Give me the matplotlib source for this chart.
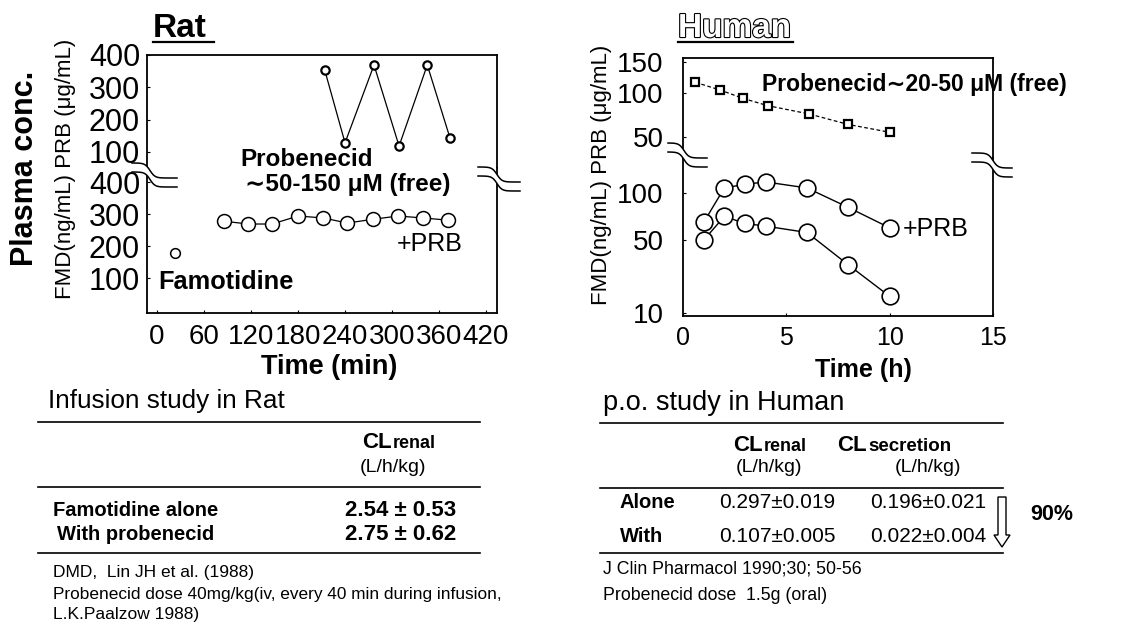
import numpy as np
import matplotlib
matplotlib.use('Agg')
import matplotlib.pyplot as plt
from matplotlib.lines import Line2D
from matplotlib.patches import Polygon
import matplotlib.patheffects as pe

plt.rcParams['font.family'] = ['Liberation Sans', 'DejaVu Sans']

# ---------------- data ----------------
rat_time_ticks = [0, 60, 120, 180, 240, 300, 360, 420]
rat_upper_ticks = [100, 200, 300, 400]
rat_lower_ticks = [100, 200, 300, 400]
famo_alone_time = [23]
famo_alone_conc = [180]
famo_prb_time = [85, 116, 147, 180, 212, 243, 276, 308, 339, 372]
famo_prb_conc = [278, 269, 269, 294, 288, 272, 284, 294, 288, 281]
prb_rat_time = [214, 240, 277, 309, 345, 374]
prb_rat_conc = [354, 128, 369, 118, 369, 143]

human_time_ticks = [0, 5, 10, 15]
human_upper_ticks = [50, 100, 150]
human_lower_ticks = [10, 50, 100]
fmd_time = [1, 2, 3, 4, 6, 8, 10]
fmd_with_prb = [65, 108, 114, 118, 108, 81, 60]
fmd_alone = [50, 71, 64, 61.5, 56, 29, 14.5]
prb_human_time = [0.6, 1.8, 2.9, 4.1, 6.1, 8.0, 10.0]
prb_human_conc = [115, 104, 92, 82, 72, 61, 54]

rat_table_rows = ['Famotidine alone', 'With probenecid']
rat_clrenal = ['2.54 ± 0.53', '2.75 ± 0.62']
human_table_rows = ['Alone', 'With']
human_clrenal = ['0.297±0.019', '0.107±0.005']
human_clsecretion = ['0.196±0.021', '0.022±0.004']

# ---------------- figure helpers ----------------
W, H = 1131, 632
fig = plt.figure(figsize=(W / 100, H / 100), dpi=100)


def fx(p):
    return p / W


def fy(p):
    return 1 - p / H


def box(l, t, r, b):
    return [fx(l), fy(b), fx(r) - fx(l), fy(t) - fy(b)]


def hline(x0, x1, y, lw=1.2):
    fig.add_artist(Line2D([fx(x0), fx(x1)], [fy(y), fy(y)], color='black', lw=lw,
                          transform=fig.transFigure))


def brk(x0, x1, y0, y1, gap=9, xm=None):
    xm = (x0 + x1) / 2 if xm is None else xm
    xs = np.linspace(x0, x1, 80)
    s = (1 + np.tanh((xs - xm) / 5.0)) / 2
    ya = y0 + (y1 - y0) * s
    yb = ya + gap
    fig.patches.append(Polygon(np.column_stack([fx(np.r_[xs, xs[::-1]]),
                                                fy(np.r_[ya, yb[::-1]])]),
                               closed=True, facecolor='white', edgecolor='none',
                               transform=fig.transFigure, zorder=5))
    for yy in (ya, yb):
        fig.add_artist(Line2D(fx(xs), fy(yy), color='black', lw=1.1,
                              transform=fig.transFigure, zorder=6))


def style(ax, top=True, bottom=True):
    for sp in ax.spines.values():
        sp.set_linewidth(1.3)
    ax.spines['top'].set_visible(top)
    ax.spines['bottom'].set_visible(bottom)
    ax.tick_params(direction='in', length=2, width=0.8)


# ---------------- Rat panel ----------------
ax_ru = fig.add_axes(box(147, 55, 497, 168))
ax_rl = fig.add_axes(box(147, 168, 497, 313))
for ax in (ax_ru, ax_rl):
    ax.set_xlim(-12.8, 434)
style(ax_ru, bottom=False)
style(ax_rl, top=False)
ax_ru.set_ylim(50, 400)
ax_rl.set_ylim(-9, 444)
ax_ru.set_xticks([])
ax_ru.set_yticks(rat_upper_ticks)
ax_rl.set_yticks(rat_lower_ticks)
ax_rl.set_xticks(rat_time_ticks)
ax_ru.tick_params(axis='y', labelsize=22, pad=5)
ax_rl.tick_params(axis='y', labelsize=22, pad=5)
ax_rl.tick_params(axis='x', labelsize=20, pad=8)

ax_ru.plot(prb_rat_time, prb_rat_conc, color='black', lw=0.9, marker='o', ms=6,
           mfc='white', mec='black', mew=1.6, clip_on=False)
ax_rl.plot(famo_prb_time, famo_prb_conc, color='black', lw=0.9, marker='o', ms=10,
           mfc='white', mec='black', mew=1.1, clip_on=False)
ax_rl.plot(famo_alone_time, famo_alone_conc, ls='none', marker='o', ms=7,
           mfc='white', mec='black', mew=1.1)

# ---------------- Human panel ----------------
def make_scale(vals, pix):
    lv = np.log10(np.asarray(vals, float))
    fp = -np.asarray(pix, float)

    def fwd(v):
        v = np.clip(np.asarray(v, float), 1e-6, None)
        return np.interp(np.log10(v), lv, fp)

    def inv(u):
        return 10 ** np.interp(np.asarray(u, float), fp, lv)
    return fwd, inv


ax_hu = fig.add_axes(box(683, 58, 993, 158))
ax_hl = fig.add_axes(box(683, 158, 993, 316))
ax_hu.set_yscale('function', functions=make_scale([10, 50, 100, 150, 1000],
                                                  [239, 137, 93, 62, -83]))
ax_hl.set_yscale('function', functions=make_scale([1, 10, 50, 100, 1000],
                                                  [417, 313, 240, 193, 37]))
for ax in (ax_hu, ax_hl):
    ax.set_xlim(0, 15)
    ax.minorticks_off()
style(ax_hu, bottom=False)
style(ax_hl, top=False)
ax_hu.set_ylim(36, 158)
ax_hl.set_ylim(9.4, 168)
ax_hu.set_xticks([])
ax_hu.set_yticks(human_upper_ticks)
ax_hu.set_yticklabels([str(v) for v in human_upper_ticks])
ax_hl.set_yticks(human_lower_ticks)
ax_hl.set_yticklabels([str(v) for v in human_lower_ticks])
ax_hl.set_xticks(human_time_ticks)
ax_hu.tick_params(axis='y', labelsize=20, pad=14)
ax_hl.tick_params(axis='y', labelsize=20, pad=14)
ax_hl.tick_params(axis='x', labelsize=18, pad=7)

ax_hu.plot(prb_human_time, prb_human_conc, color='black', lw=0.9, ls=(0, (3, 2)),
           marker='s', ms=6, mfc='white', mec='black', mew=1.6)
ax_hl.plot(fmd_time, fmd_with_prb, color='black', lw=1.0, marker='o', ms=12,
           mfc='white', mec='black', mew=1.2)
ax_hl.plot(fmd_time, fmd_alone, color='black', lw=1.0, marker='o', ms=12,
           mfc='white', mec='black', mew=1.2)

# ---------------- break marks ----------------
brk(132, 177, 163, 178, gap=9, xm=150)
brk(478, 520, 167, 182, gap=9, xm=497)
brk(668, 707, 143, 158, gap=9, xm=684)
brk(972, 1012, 153, 168, gap=9, xm=993)

# ---------------- titles & labels ----------------
fig.text(fx(153), fy(37), 'Rat', fontsize=24, fontweight='bold', ha='left', va='baseline')
hline(153, 214, 42, lw=1.6)
fig.text(fx(678), fy(37), 'Human', fontsize=24, fontweight='bold', ha='left',
         va='baseline', color='white',
         path_effects=[pe.withStroke(linewidth=1.6, foreground='black')])
hline(678, 793, 42, lw=1.6)

fig.text(fx(25), fy(168), 'Plasma conc.', fontsize=22, fontweight='bold', rotation=90,
         ha='center', va='center')
fig.text(fx(65), fy(169), 'FMD(ng/mL) PRB (μg/mL)', fontsize=16, rotation=90,
         ha='center', va='center')
fig.text(fx(602), fy(175), 'FMD(ng/mL) PRB (μg/mL)', fontsize=16, rotation=90,
         ha='center', va='center')
fig.text(fx(329), fy(367), 'Time (min)', fontsize=19.5, fontweight='bold',
         ha='center', va='center')
fig.text(fx(863), fy(370), 'Time (h)', fontsize=18, fontweight='bold',
         ha='center', va='center')

fig.text(fx(240), fy(160), 'Probenecid', fontsize=17.5, fontweight='bold', va='center')
fig.text(fx(245), fy(185), '∼50-150 μM (free)', fontsize=17.5, fontweight='bold', va='center')
fig.text(fx(397), fy(244), '+PRB', fontsize=18, va='center')
fig.text(fx(158), fy(282), 'Famotidine', fontsize=18.3, fontweight='bold', va='center')
fig.text(fx(762), fy(84), 'Probenecid∼20-50 μM (free)', fontsize=16.5,
         fontweight='bold', va='center')
fig.text(fx(903), fy(229), '+PRB', fontsize=18, va='center')

# ---------------- Rat table ----------------
fig.text(fx(48), fy(401), 'Infusion study in Rat', fontsize=18.8, va='center')
hline(38, 480, 422)
fig.text(fx(362), fy(448), 'CL', fontsize=16, fontweight='bold', va='baseline')
fig.text(fx(393), fy(448), 'renal', fontsize=13, fontweight='bold', va='baseline')
fig.text(fx(393), fy(468), '(L/h/kg)', fontsize=14, ha='center', va='center')
hline(38, 480, 487)
for i, (r, v) in enumerate(zip(rat_table_rows, rat_clrenal)):
    y = 510 + 25 * i
    fig.text(fx(53 + 4 * i), fy(y), r, fontsize=14.5, fontweight='bold', va='center')
    fig.text(fx(401), fy(y), v, fontsize=16, fontweight='bold', ha='center', va='center')
hline(38, 480, 553)
fig.text(fx(53), fy(573), 'DMD,  Lin JH et al. (1988)', fontsize=12.5, va='center')
fig.text(fx(53), fy(594), 'Probenecid dose 40mg/kg(iv, every 40 min during infusion,',
         fontsize=12.4, va='center')
fig.text(fx(53), fy(615), 'L.K.Paalzow 1988)', fontsize=12.5, va='center')

# ---------------- Human table ----------------
fig.text(fx(603), fy(403), 'p.o. study in Human', fontsize=19.5, va='center')
hline(600, 1003, 423)
fig.text(fx(733), fy(451), 'CL', fontsize=16, fontweight='bold', va='baseline')
fig.text(fx(764), fy(451), 'renal', fontsize=13, fontweight='bold', va='baseline')
fig.text(fx(837), fy(451), 'CL', fontsize=16, fontweight='bold', va='baseline')
fig.text(fx(868), fy(451), 'secretion', fontsize=13.5, fontweight='bold', va='baseline')
fig.text(fx(769), fy(468), '(L/h/kg)', fontsize=14, ha='center', va='center')
fig.text(fx(928), fy(468), '(L/h/kg)', fontsize=14, ha='center', va='center')
hline(600, 1003, 488)
for i, (r, a, b) in enumerate(zip(human_table_rows, human_clrenal, human_clsecretion)):
    y = 503 + 33 * i
    fig.text(fx(620), fy(y), r, fontsize=14.5, fontweight='bold', va='center')
    fig.text(fx(777), fy(y), a, fontsize=15, ha='center', va='center')
    fig.text(fx(928), fy(y), b, fontsize=15, ha='center', va='center')
hline(600, 1003, 553)
fig.text(fx(603), fy(569), 'J Clin Pharmacol 1990;30; 50-56', fontsize=12.8, va='center')
fig.text(fx(603), fy(595), 'Probenecid dose  1.5g (oral)', fontsize=12.8, va='center')

# hollow down arrow
cx, top, bot = 1002, 497, 547
pts = [(cx - 4, top), (cx + 4, top), (cx + 4, bot - 12), (cx + 8, bot - 12), (cx, bot),
       (cx - 8, bot - 12), (cx - 4, bot - 12)]
fig.patches.append(Polygon([(fx(x), fy(y)) for x, y in pts], closed=True, fill=False,
                           edgecolor='black', lw=1.0, transform=fig.transFigure))
fig.text(fx(1030), fy(514), '90%', fontsize=15.5, fontweight='bold', va='center')

fig.savefig('out.png', dpi=100)
